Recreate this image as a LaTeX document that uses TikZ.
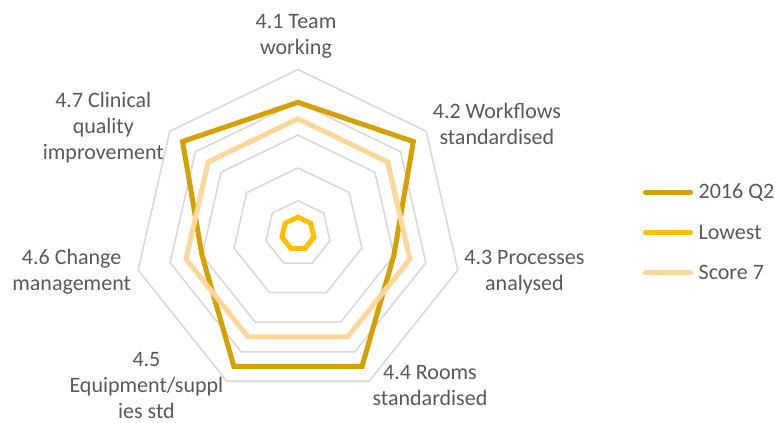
\documentclass[tikz,border=0pt]{standalone}
\usepackage{fontspec}
\setmainfont{Carlito}
\definecolor{qgold}{RGB}{214,160,0}
\definecolor{lowgold}{RGB}{255,192,0}
\definecolor{scorepeach}{RGB}{255,216,153}
\definecolor{gridgray}{RGB}{217,217,217}
\definecolor{labelgray}{RGB}{89,89,89}

\begin{document}
\begin{tikzpicture}[x=8.2pt, y=8.2pt,
ring/.style={gridgray, line width=.8pt},
series/.style={line width=2.5pt},
axislabel/.style={inner sep=0, align=center, text=labelgray, font=\fontsize{11}{13}\selectfont},
legendline/.style={line width=2.5pt, line cap=round, shorten >=3.85pt},
legendtext/.style={inner sep=0, anchor=west, text=labelgray, font=\fontsize{11}{13}\selectfont},
]
\useasboundingbox (-18.17,-11.55) rectangle (29.09,14.24);

%%%%%%%%%%%% GRID RINGS %%%%%%%%%%%%
\foreach \r in {2,4,...,10}
  \draw[ring] (90:\r) foreach \k in {1,...,6} {-- (90-\k*360/7:\r)} -- cycle;

%%%%%%%%%%%% SERIES %%%%%%%%%%%%
\draw[series, qgold] (90:8) foreach \k/\r in {1/9,2/6,3/9,4/9,5/6,6/9} {-- (90-\k*360/7:\r)} -- cycle; % 2016 Q2
\draw[series, lowgold] (90:1) foreach \k in {1,...,6} {-- (90-\k*360/7:1)} -- cycle; % Lowest
\draw[series, scorepeach] (90:7) foreach \k in {1,...,6} {-- (90-\k*360/7:7)} -- cycle; % Score 7

%%%%%%%%%%%% AXIS LABELS %%%%%%%%%%%%
\node[axislabel] (lab1) at (-0.12,12.05) {4.1 Team\\working};
\node[axislabel] (lab2) at (12.13,6.71) {4.2 Workflows\\standardised};
\node[axislabel] (lab3) at (13.81,-2.37) {4.3 Processes\\analysed};
\node[axislabel] (lab4) at (8.05,-9.28) {4.4 Rooms\\standardised};
\node[axislabel] (lab5) at (-9.24,-9.26) {4.5\\Equipment/suppl\\ies std};
\node[axislabel] (lab6) at (-13.80,-2.34) {4.6 Change\\management};
\node[axislabel] (lab7) at (-11.87,6.47) {4.7 Clinical\\quality\\improvement};

%%%%%%%%%%%% LEGEND %%%%%%%%%%%%
\node[legendtext] (leg1) at (24.41,2.52) {2016 Q2};
\node[legendtext] (leg2) at (24.41,0.08) {Lowest};
\node[legendtext] (leg3) at (24.41,-2.36) {Score 7};
\coordinate (key1) at (21.19,2.52);
\coordinate (key2) at (21.19,0.08);
\coordinate (key3) at (21.19,-2.36);
\draw[legendline, qgold] (key1) -- (leg1.west |- key1);
\draw[legendline, lowgold] (key2) -- (leg2.west |- key2);
\draw[legendline, scorepeach] (key3) -- (leg3.west |- key3);

\end{tikzpicture}
\end{document}
